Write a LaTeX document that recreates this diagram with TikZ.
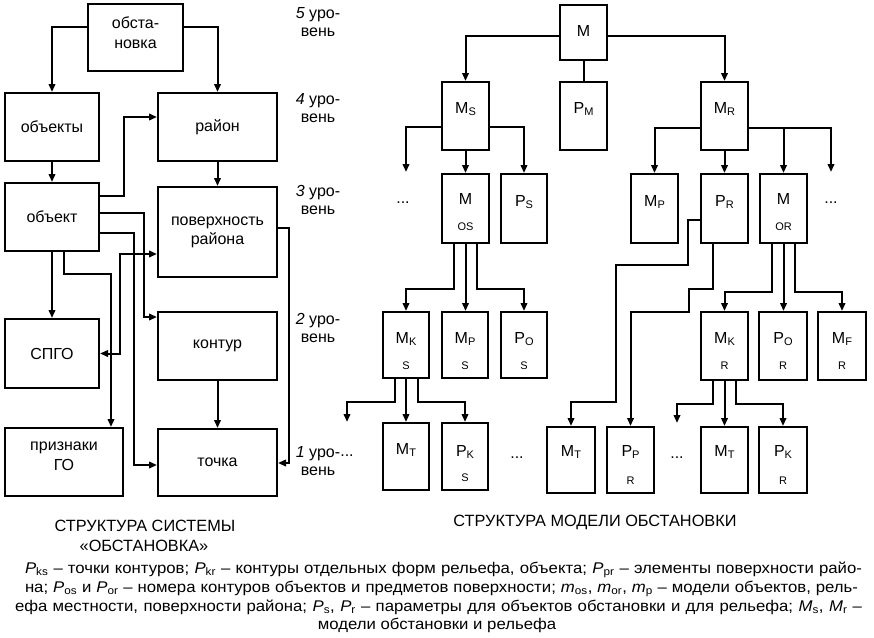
\documentclass[tikz,border=0pt]{standalone}
\usepackage{fontspec}
\setmainfont{Liberation Sans}
\newfontfamily\widefont[FakeStretch=1.08]{Liberation Sans}
\usetikzlibrary{arrows.meta,calc}
\newcommand\msub[1]{\raisebox{-2.5pt}{\fontsize{11}{11}\selectfont #1}}
\begin{document}
\begin{tikzpicture}[x=1pt,y=-1pt,
  bx/.style={draw, line width=2pt, inner sep=0pt, align=center, font=\fontsize{16}{19}\selectfont},
  sb/.style={draw, line width=2pt, inner sep=0pt, minimum width=47pt, minimum height=68pt},
  lb/.style={inner sep=0pt, align=center, font=\fontsize{16}{20}\selectfont},
  lbs/.style={inner sep=0pt, font=\fontsize{11}{11}\selectfont},
  con/.style={line width=2pt},
  arr/.style={con, -{Triangle[length=8pt,width=6.5pt]}},
  arrb/.style={con, {Triangle[length=8pt,width=6.5pt]}-{Triangle[length=8pt,width=6.5pt]}},
  lev/.style={align=center, inner sep=0pt, font=\fontsize{16}{18}\selectfont},
  dts/.style={inner sep=0pt, font=\fontsize{16}{16}\selectfont},
  captxt/.style={inner sep=0pt, anchor=base, font=\fontsize{16.3}{20}\selectfont},
  leg/.style={inner sep=0pt, anchor=base, font=\widefont\fontsize{15.5}{19}\selectfont}
]
\useasboundingbox (0,0) rectangle (874,637);

% ---------- left diagram ----------
\node[bx, minimum width=95pt, minimum height=67pt] (obst) at (135.5,37.5) {};
\node[lb] (obstt) at ([yshift=5pt]obst.center) {обста-\\новка};
\node[bx, minimum width=94pt, minimum height=68pt] (objs) at (52,127) {объекты};
\node[bx, minimum width=119pt, minimum height=68pt] (rayon) at (217.5,127) {район};
\node[bx, minimum width=94pt, minimum height=68pt] (obj) at (52,217) {объект};
\node[bx, minimum width=119pt, minimum height=90pt] (pov) at (217.5,232) {поверхность\\района};
\node[bx, minimum width=119pt, minimum height=68pt] (kontur) at (217.5,346) {контур};
\node[bx, minimum width=94pt, minimum height=69pt] (spgo) at (52,353.5) {СПГО};
\node[bx, minimum width=118pt, minimum height=68pt] (prizn) at (64,462) {};
\node[lb] (priznt) at ([yshift=6pt]prizn.center) {признаки\\ГО};
\node[bx, minimum width=119pt, minimum height=67pt] (tochka) at (217.5,462.5) {точка};

\draw[arr] ([yshift=10.5pt]obst.west) -| (objs.north);
\draw[arr] ([yshift=10.5pt]obst.east) -| (rayon.north);
\draw[arr] (objs.south) -- (obj.north);
\draw[arr] (rayon.south) -- (pov.north);
\draw[arr] ([yshift=21pt]obj.east) -- ++(24,0) |- ([yshift=10pt]rayon.west);
\draw[arr] ([yshift=4pt]obj.east) -- ++(44,0) |- ([yshift=29pt]kontur.west);
\draw[arr] ([yshift=-16pt]obj.east) -- ++(34,0) |- ([yshift=-2.5pt]tochka.west);
\draw[arr] (obj.south) -- (spgo.north);
\draw[arr] ([xshift=12pt]obj.south) -- ++(0,22) -| ([xshift=47pt]prizn.north);
\draw[arrb] (spgo.east) -- ++(20,0) |- ([yshift=-22pt]pov.west);
\draw[arr] ([yshift=4pt]pov.east) -- ++(11,0) |- ([yshift=-0.5pt]tochka.east);
\draw[arr] (kontur.south) -- (tochka.north);

% ---------- level labels ----------
\node[lev] (l5) at (318,22) {\textit{5} уро-\\вень};
\node[lev] (l4) at (318,108) {\textit{4} уро-\\вень};
\node[lev] (l3) at (318,200) {\textit{3} уро-\\вень};
\node[lev] (l2) at (318,328) {\textit{2} уро-\\вень};
\node[lev] (l1) at (318,461) {\textit{1} уро-\\вень};

% ---------- right diagram ----------
\node[sb, minimum height=55pt] (M) at (583.5,32.5) {};
\node[sb] (PM) at (583.5,116) {};
\node[sb] (MS) at (465.5,116) {};
\node[sb] (MR) at (724.5,116) {};
\node[sb, minimum height=69pt] (MOS) at (465.5,208.5) {};
\node[sb, minimum width=46pt, minimum height=69pt] (PS) at (524,208.5) {};
\node[sb, minimum height=69pt] (MP) at (654.5,208.5) {};
\node[sb, minimum height=69pt] (PR) at (724.5,208.5) {};
\node[sb, minimum height=69pt] (MOR) at (783.5,208.5) {};
\node[sb, minimum width=46pt, minimum height=66pt] (MKS) at (406,345) {};
\node[sb, minimum width=46pt, minimum height=66pt] (MPS) at (465,345) {};
\node[sb, minimum width=46pt, minimum height=66pt] (POS) at (524,345) {};
\node[sb] (MKR) at (724.5,346) {};
\node[sb, minimum width=48pt] (POR) at (783,346) {};
\node[sb, minimum width=48pt] (MFR) at (842,346) {};
\node[sb, minimum width=46pt, minimum height=67pt] (MTS) at (406,456.5) {};
\node[sb, minimum width=46pt, minimum height=67pt] (PKS) at (465,456.5) {};
\node[sb, minimum width=48pt, minimum height=66pt] (MT2) at (571,460) {};
\node[sb, minimum height=66pt] (PPR) at (630.5,460) {};
\node[sb, minimum height=66pt] (MT3) at (724.5,460) {};
\node[sb, minimum width=48pt, minimum height=66pt] (PKR) at (783,460) {};

% labels in boxes
\node[lb] (tM) at ([yshift=-27pt]M.north) {M};
\node[lb] (tPM) at ([yshift=-28pt]PM.north) {P\msub{M}};
\node[lb] (tMS) at ([yshift=-28pt]MS.north) {M\msub{S}};
\node[lb] (tMR) at ([yshift=-28pt]MR.north) {M\msub{R}};
\node[lb] (tMOS) at ([yshift=-26pt]MOS.north) {M};
\node[lbs] (sMOS) at ([yshift=-54pt]MOS.north) {OS};
\node[lb] (tPS) at ([yshift=-29pt]PS.north) {P\msub{S}};
\node[lb] (tMP) at ([yshift=-29pt]MP.north) {M\msub{P}};
\node[lb] (tPR) at ([yshift=-29pt]PR.north) {P\msub{R}};
\node[lb] (tMOR) at ([yshift=-26pt]MOR.north) {M};
\node[lbs] (sMOR) at ([yshift=-54pt]MOR.north) {OR};
\node[lb] (tMKS) at ([yshift=-28pt]MKS.north) {M\msub{K}};
\node[lbs] (sMKS) at ([yshift=-55pt]MKS.north) {S};
\node[lb] (tMPS) at ([yshift=-28pt]MPS.north) {M\msub{P}};
\node[lbs] (sMPS) at ([yshift=-55pt]MPS.north) {S};
\node[lb] (tPOS) at ([yshift=-28pt]POS.north) {P\msub{O}};
\node[lbs] (sPOS) at ([yshift=-55pt]POS.north) {S};
\node[lb] (tMKR) at ([yshift=-28pt]MKR.north) {M\msub{K}};
\node[lbs] (sMKR) at ([yshift=-55pt]MKR.north) {R};
\node[lb] (tPOR) at ([yshift=-28pt]POR.north) {P\msub{O}};
\node[lbs] (sPOR) at ([yshift=-55pt]POR.north) {R};
\node[lb] (tMFR) at ([yshift=-28pt]MFR.north) {M\msub{F}};
\node[lbs] (sMFR) at ([yshift=-55pt]MFR.north) {R};
\node[lb] (tMTS) at ([yshift=-28pt]MTS.north) {M\msub{T}};
\node[lb] (tPKS) at ([yshift=-30pt]PKS.north) {P\msub{K}};
\node[lbs] (sPKS) at ([yshift=-56pt]PKS.north) {S};
\node[lb] (tMT2) at ([yshift=-26pt]MT2.north) {M\msub{T}};
\node[lb] (tPPR) at ([yshift=-26pt]PPR.north) {P\msub{P}};
\node[lbs] (sPPR) at ([yshift=-55pt]PPR.north) {R};
\node[lb] (tMT3) at ([yshift=-26pt]MT3.north) {M\msub{T}};
\node[lb] (tPKR) at ([yshift=-26pt]PKR.north) {P\msub{K}};
\node[lbs] (sPKR) at ([yshift=-55pt]PKR.north) {R};

% dots
\node[dts] (d1) at (403,203) {...};
\node[dts] (d2) at (831,203) {...};
\node[dts] (d3) at (347,456) {...};
\node[dts] (d4) at (517,458) {...};
\node[dts] (d5) at (677,458) {...};

% free arrow ends
\coordinate (c1) at (406,172);
\coordinate (c2) at (831,172);
\coordinate (c3) at (347,422);
\coordinate (c4) at (677,423);

% connectors
\draw[arr] ([yshift=-3.5pt]M.west) -| (MS.north);
\draw[arr] ([yshift=-3.5pt]M.east) -| (MR.north);
\draw[con] (M.south) -- (PM.north);
\draw[arr] ([yshift=-11pt]MS.west) -| (c1);
\draw[arr] (MS.south) -- (MOS.north);
\draw[arr] ([yshift=-11pt]MS.east) -| (PS.north);
\draw[arr] ([yshift=-12pt]MR.west) -| (MP.north);
\draw[arr] (MR.south) -- (PR.north);
\coordinate (mrR) at ([yshift=-12pt]MR.east);
\draw[arr] (mrR) -| (c2);
\draw[arr] (mrR -| MOR.north) -- (MOR.north);

\draw[arr] ([xshift=-11.5pt]MOS.south) -- ++(0,45) -| (MKS.north);
\draw[arr] (MOS.south) -- (MOS.south |- MPS.north);
\draw[arr] ([xshift=11.5pt]MOS.south) -- ++(0,45) -| (POS.north);

\draw[arr] ([xshift=-11pt]MKS.south) -- ++(0,23) -| (c3);
\draw[arr] (MKS.south) -- (MTS.north);
\draw[arr] ([xshift=12pt]MKS.south) -- ++(0,23) -| (PKS.north);

\draw[arr] ([yshift=-11.5pt]PR.west) -- ++(-12,0) -- ++(0,45) -- ++(-72,0) -- ++(0,137) -| (MT2.north);
\draw[arr] ([xshift=-11.5pt]PR.south) -- ++(0,45) -- ++(-24,0) -- ++(0,23) -| (PPR.north);

\draw[arr] ([xshift=-11.5pt]MOR.south) -- ++(0,48) -| (MKR.north);
\draw[arr] (MOR.south) -- (MOR.south |- POR.north);
\draw[arr] ([xshift=11.5pt]MOR.south) -- ++(0,48) -| (MFR.north);

\draw[arr] ([xshift=-11.5pt]MKR.south) -- ++(0,23) -| (c4);
\draw[arr] (MKR.south) -- (MT3.north);
\draw[arr] ([xshift=11.5pt]MKR.south) -- ++(0,23) -| (PKR.north);

% ---------- captions ----------
\node[captxt] (capL1) at (145,531) {СТРУКТУРА СИСТЕМЫ};
\node[captxt] (capL2) at (144,551) {«ОБСТАНОВКА»};
\node[captxt] (capR) at (595,526) {СТРУКТУРА МОДЕЛИ ОБСТАНОВКИ};

\node[leg] (lg1) at (443.5,573) {\makebox[837pt][s]{\textit{P}\textsubscript{ks} – точки контуров; \textit{P}\textsubscript{kr} – контуры отдельных форм рельефа, объекта; \textit{P}\textsubscript{pr} – элементы поверхности райо-}};
\node[leg] (lg2) at (441.5,592) {\makebox[833pt][s]{на; \textit{P}\textsubscript{os} и \textit{P}\textsubscript{or} – номера контуров объектов и предметов поверхности; \textit{m}\textsubscript{os}, \textit{m}\textsubscript{or}, \textit{m}\textsubscript{p} – модели объектов, рель-}};
\node[leg] (lg3) at (438.5,611) {\makebox[847pt][s]{ефа местности, поверхности района; \textit{P}\textsubscript{s}, \textit{P}\textsubscript{r} – параметры для объектов обстановки и для рельефа; \textit{M}\textsubscript{s}, \textit{M}\textsubscript{r} –}};
\node[leg] (lg4) at (437,629) {модели обстановки и рельефа};
\end{tikzpicture}
\end{document}
